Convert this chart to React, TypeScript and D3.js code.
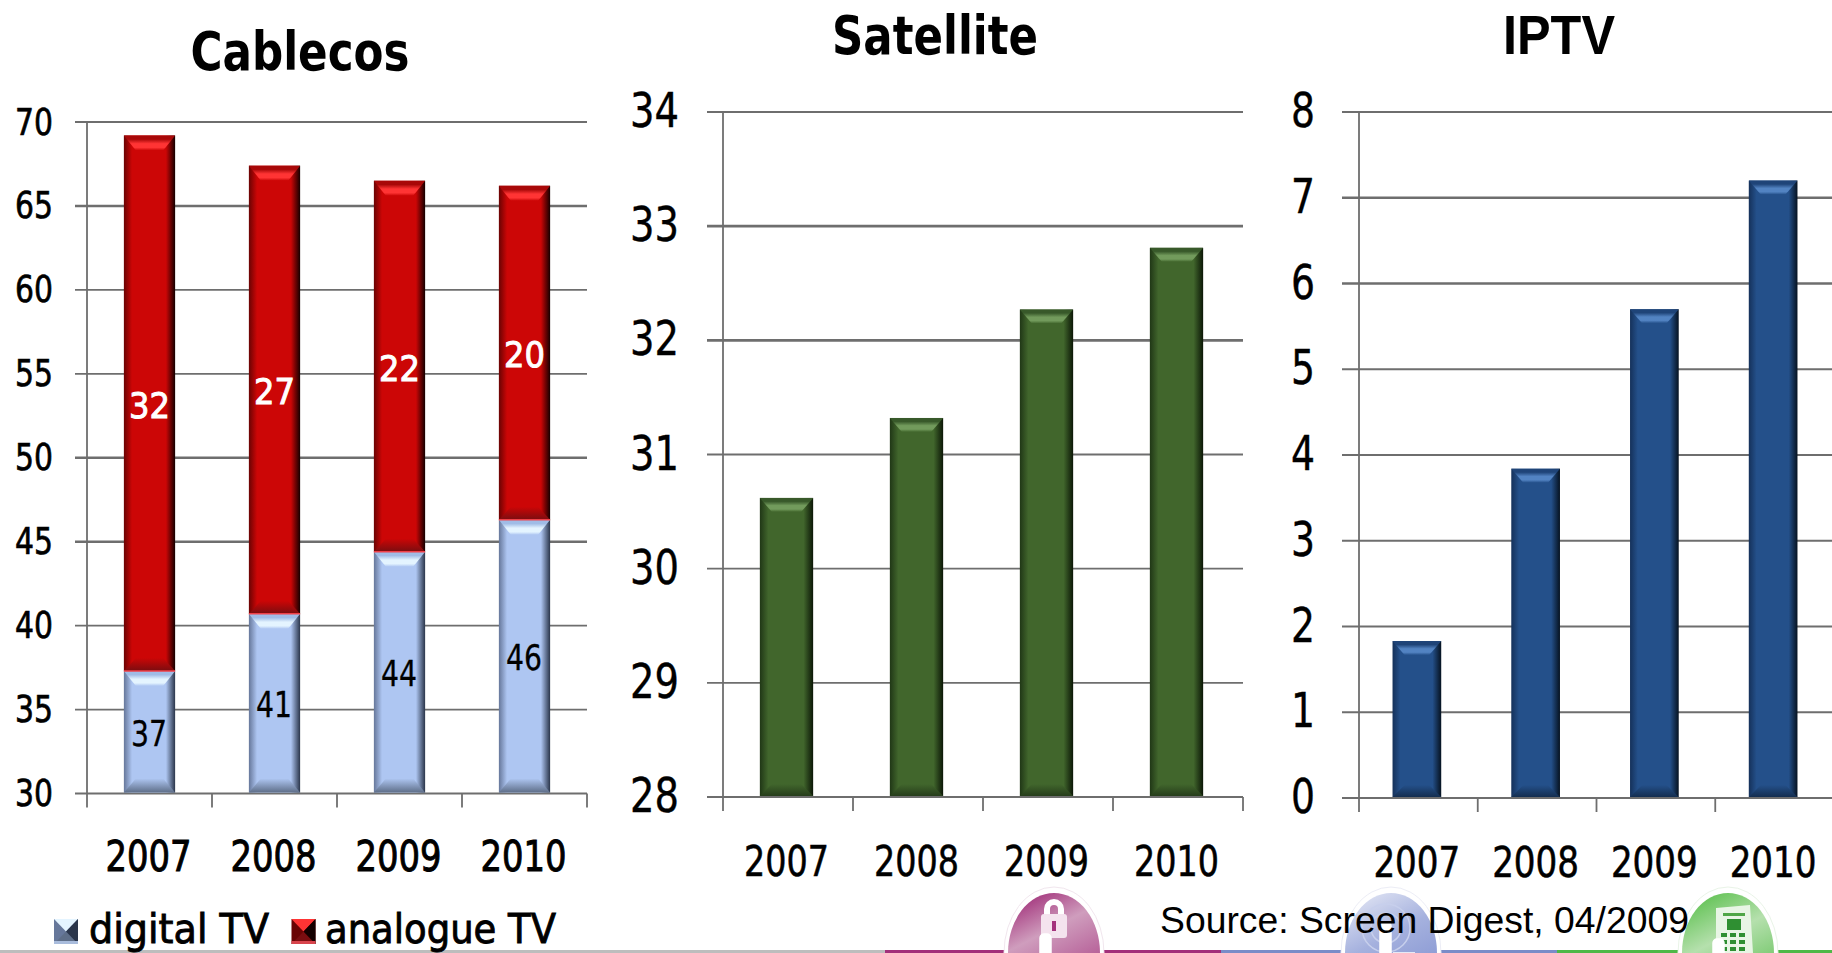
import React from "react";
import * as d3 from "d3";

const years = ["2007", "2008", "2009", "2010"];

const digitalTv = [37.3, 40.7, 44.4, 46.3];
const analogueTv = [31.9, 26.7, 22.1, 19.9];
const satellite = [30.62, 31.32, 32.27, 32.81];
const iptv = [1.83, 3.84, 5.7, 7.2];

const cableTicks = [30, 35, 40, 45, 50, 55, 60, 65, 70];
const satelliteTicks = [28, 29, 30, 31, 32, 33, 34];
const iptvTicks = [0, 1, 2, 3, 4, 5, 6, 7, 8];

const GRID = "#6e6e6e";
const SANS = "'DejaVu Sans', sans-serif";

type Tone = { id: string; edgeL: string; mid: string; edgeR: string; top: string[]; bottom: string };

const tones: Record<string, Tone> = {
  red: { id: "red", edgeL: "#6a0303", mid: "#cc0606", edgeR: "#140000", top: ["#a80808", "#ff3434"], bottom: "#7a0d10" },
  pale: { id: "pale", edgeL: "#66779a", mid: "#aec6f2", edgeR: "#2a354a", top: ["#a0bce6", "#e4f4ff"], bottom: "#5e6e88" },
  green: { id: "green", edgeL: "#203716", mid: "#41662c", edgeR: "#0c1707", top: ["#38592a", "#729b5c"], bottom: "#263d1b" },
  blue: { id: "blue", edgeL: "#15315a", mid: "#24508a", edgeR: "#061220", top: ["#1f4478", "#5283c2"], bottom: "#142e50" },
};

// Text squeezed to a measured width, since the slide was stretched vertically.
function Fit(props: {
  x: number; y: number; w: number; size: number; anchor?: string; fill?: string;
  bold?: boolean; stroke?: number; family?: string; children: string;
}) {
  const { x, y, w, size, anchor = "middle", fill = "#000", bold, stroke = 0, family = SANS, children } = props;
  return (
    <text
      x={x}
      y={y}
      textAnchor={anchor}
      fontFamily={family}
      fontSize={size}
      fontWeight={bold ? 700 : 400}
      fill={fill}
      stroke={stroke ? fill : "none"}
      strokeWidth={stroke}
      textLength={w}
      lengthAdjust="spacingAndGlyphs"
    >
      {children}
    </text>
  );
}

function Defs() {
  return (
    <defs>
      {Object.values(tones).map((t) => (
        <React.Fragment key={t.id}>
          <linearGradient id={`side-${t.id}`} x1="0" x2="1" y1="0" y2="0">
            <stop offset="0" stopColor={t.edgeL} />
            <stop offset="0.16" stopColor={t.mid} />
            <stop offset="0.82" stopColor={t.mid} />
            <stop offset="1" stopColor={t.edgeR} />
          </linearGradient>
          <linearGradient id={`top-${t.id}`} x1="0" x2="0" y1="0" y2="1">
            <stop offset="0" stopColor={t.top[0]} />
            <stop offset="0.25" stopColor={t.top[0]} />
            <stop offset="0.55" stopColor={t.top[1]} />
            <stop offset="0.8" stopColor={t.top[1]} />
            <stop offset="1" stopColor={t.mid} />
          </linearGradient>
          <linearGradient id={`bot-${t.id}`} x1="0" x2="0" y1="0" y2="1">
            <stop offset="0" stopColor={t.mid} />
            <stop offset="1" stopColor={t.bottom} />
          </linearGradient>
        </React.Fragment>
      ))}
      <linearGradient id="egg-purple" x1="0.2" x2="0.6" y1="0" y2="1">
        <stop offset="0" stopColor="#a02d78" />
        <stop offset="0.35" stopColor="#cf9dbd" />
        <stop offset="1" stopColor="#a4337d" />
      </linearGradient>
      <linearGradient id="egg-blue" x1="0.2" x2="0.6" y1="0" y2="1">
        <stop offset="0" stopColor="#dfe3f3" />
        <stop offset="0.4" stopColor="#a5b1de" />
        <stop offset="1" stopColor="#7b8cce" />
      </linearGradient>
      <linearGradient id="egg-green" x1="0.2" x2="0.6" y1="0" y2="1">
        <stop offset="0" stopColor="#5cc04e" />
        <stop offset="0.4" stopColor="#b5e0ad" />
        <stop offset="1" stopColor="#52b947" />
      </linearGradient>
    </defs>
  );
}

// One bevelled column segment: shaded sides, lit top face and darker foot.
function Bevel({ x, w, yTop, yBot, tone, top = 15, foot = 14 }: {
  x: number; w: number; yTop: number; yBot: number; tone: Tone; top?: number; foot?: number;
}) {
  const inset = 12;
  return (
    <g>
      <rect x={x} y={yTop} width={w} height={yBot - yTop} fill={`url(#side-${tone.id})`} />
      <path
        d={`M${x},${yTop}H${x + w}L${x + w - inset},${yTop + top}H${x + inset}Z`}
        fill={`url(#top-${tone.id})`}
      />
      <path
        d={`M${x + inset},${yBot - foot}H${x + w - inset}L${x + w},${yBot}H${x}Z`}
        fill={`url(#bot-${tone.id})`}
      />
    </g>
  );
}

function Frame({ y, x, gridLeft, gridRight, ticks, tickW, tickSize, labelRight, labelDy, tickLabelStroke, strong }: {
  y: d3.ScaleLinear<number, number>; x: d3.ScaleBand<string>; gridLeft: number; gridRight: number;
  ticks: number[]; tickW: (t: number) => number; tickSize: number; labelRight: number; labelDy: number;
  tickLabelStroke: number; strong: number[];
}) {
  const [left] = x.range();
  const base = y.range()[0];
  const step = x.step();
  return (
    <g>
      {ticks.map((t) => (
        <g key={t}>
          <line
            x1={gridLeft}
            x2={gridRight}
            y1={y(t)}
            y2={y(t)}
            stroke={GRID}
            strokeWidth={strong.includes(t) ? 2.6 : 1.8}
          />
          <Fit x={labelRight} y={y(t) + labelDy} w={tickW(t)} size={tickSize} anchor="end" stroke={tickLabelStroke}>
            {String(t)}
          </Fit>
        </g>
      ))}
      <line x1={left} x2={left} y1={y(ticks[ticks.length - 1])} y2={base + 14} stroke={GRID} strokeWidth={1.8} />
      {years.map((_, i) => (
        <line
          key={i}
          x1={left + step * (i + 1)}
          x2={left + step * (i + 1)}
          y1={base}
          y2={base + 14}
          stroke={GRID}
          strokeWidth={1.8}
        />
      ))}
    </g>
  );
}

function Swatch({ x, y, tone }: { x: number; y: number; tone: Tone }) {
  const s = 24;
  const h = 25;
  return (
    <g>
      <rect x={x} y={y} width={s} height={h} fill={tone.edgeL} />
      <path d={`M${x},${y}H${x + s}L${x + s / 2},${y + h / 2}Z`} fill={tone.top[1]} />
      <path d={`M${x},${y + h}H${x + s}L${x + s / 2},${y + h / 2}Z`} fill={tone.bottom} />
      <path d={`M${x + s},${y}V${y + h}L${x + s / 2},${y + h / 2}Z`} fill={tone.edgeR} />
      <rect x={x} y={y + h - 3} width={s} height={3} fill={tone.id === "red" ? "#d8444c" : "#a9bcdc"} />
    </g>
  );
}

function Cablecos() {
  const x = d3.scaleBand<string>().domain(years).range([87, 587]).paddingInner(0.59).paddingOuter(0.295);
  const y = d3.scaleLinear().domain([30, 70]).range([793.5, 122]);
  const w = x.bandwidth();
  const fmt = d3.format(".0f");
  return (
    <g>
      <Fit x={300} y={70} w={219} size={53} bold>Cablecos</Fit>
      <Frame
        x={x} y={y} gridLeft={75} gridRight={587} ticks={cableTicks}
        tickW={() => 38} tickSize={37} labelRight={53} labelDy={12.5} tickLabelStroke={0.7} strong={[65, 45, 50]}
      />
      {years.map((yr, i) => {
        const px = x(yr)!;
        const total = digitalTv[i] + analogueTv[i];
        const midD = (30 + digitalTv[i]) / 2;
        const midA = digitalTv[i] + analogueTv[i] / 2;
        const cx = px + w / 2;
        return (
          <g key={yr}>
            <Bevel x={px} w={w} yTop={y(digitalTv[i])} yBot={y(30) - 1} tone={tones.pale} top={15} foot={14} />
            <Bevel x={px} w={w} yTop={y(total)} yBot={y(digitalTv[i])} tone={tones.red} top={15} foot={13} />
            <line x1={px} x2={px + w} y1={y(digitalTv[i])} y2={y(digitalTv[i])} stroke="#f04048" strokeWidth={1.5} />
            <Fit x={cx - 0.5} y={y(midD) + 13.5} w={36} size={35} stroke={0.3}>{fmt(digitalTv[i])}</Fit>
            <Fit x={cx} y={y(midA) + 14.5} w={41} size={35} fill="#fff" stroke={1}>{fmt(analogueTv[i])}</Fit>
            <Fit x={cx - 1} y={871} w={86} size={42} stroke={1}>{yr}</Fit>
          </g>
        );
      })}
      <Swatch x={54} y={919} tone={tones.pale} />
      <Fit x={89} y={943} w={180} size={40} anchor="start" stroke={0.9}>digital TV</Fit>
      <Swatch x={291.5} y={919} tone={tones.red} />
      <Fit x={325} y={943} w={231} size={40} anchor="start" stroke={0.9}>analogue TV</Fit>
    </g>
  );
}

function SingleSeries({ title, titleX, titleW, values, ticks, domain, yRange, xRange, gridLeft, gridRight, tone, labelRight, tickW, shift, strong, yearBase, yearW, titleFamily }: {
  title: string; titleX: number; titleW: number; values: number[]; ticks: number[]; domain: [number, number];
  yRange: [number, number]; xRange: [number, number]; gridLeft: number; gridRight: number; tone: Tone;
  labelRight: number; tickW: (t: number) => number; shift: number; strong: number[]; yearBase: number; yearW: number;
  titleFamily?: string;
}) {
  const x = d3.scaleBand<string>().domain(years).range(xRange).paddingInner(0.59).paddingOuter(0.295);
  const y = d3.scaleLinear().domain(domain).range(yRange);
  const w = x.bandwidth();
  return (
    <g>
      <Fit x={titleX} y={54} w={titleW} size={titleFamily ? 55 : 53} bold family={titleFamily}>{title}</Fit>
      <Frame
        x={x} y={y} gridLeft={gridLeft} gridRight={gridRight} ticks={ticks}
        tickW={tickW} tickSize={48} labelRight={labelRight} labelDy={15} tickLabelStroke={0.4} strong={strong}
      />
      {years.map((yr, i) => (
        <g key={yr}>
          <Bevel x={x(yr)! + shift} w={w} yTop={y(values[i])} yBot={y(domain[0]) - 1} tone={tone} top={14} foot={12} />
          <Fit x={x(yr)! + w / 2 + shift} y={yearBase} w={yearW} size={43} stroke={0.6}>{yr}</Fit>
        </g>
      ))}
    </g>
  );
}

function Egg({ cx, fill, halo, children }: { cx: number; fill: string; halo: string; children: React.ReactNode }) {
  return (
    <g>
      <ellipse cx={cx} cy={953} rx={50} ry={66} fill="#fff" stroke={halo} strokeWidth={1} />
      <ellipse cx={cx} cy={953} rx={46} ry={60} fill={`url(#${fill})`} />
      {children}
    </g>
  );
}

// A pointing finger that sits at the foot of every product badge.
function Finger({ cx, y, color }: { cx: number; y: number; color: string }) {
  return (
    <g fill={color} stroke="#fff" strokeWidth={1.5}>
      <rect x={cx - 6} y={y} width={11} height={50} rx={4} fill="#fff" />
      <path d={`M${cx + 7},${y + 31}h22M${cx + 13},${y + 31}v14M${cx + 21},${y + 31}v14M${cx - 22},${y + 34}h14`} fill="none" />
    </g>
  );
}

function Footer() {
  return (
    <g>
      <rect x={0} y={950} width={885} height={3} fill="#bdbdbd" />
      <rect x={885} y={950} width={336} height={3} fill="#a22f7a" />
      <rect x={1221} y={950} width={336} height={3} fill="#7a8cc8" />
      <rect x={1557} y={950} width={275} height={3} fill="#4fb848" />

      <Egg cx={1054} fill="egg-purple" halo="#f1e6ee">
        <path d="M1044,909a10,10 0 0 1 20,0v6h-6v-6a4,4 0 0 0-8,0v6h-6Z" fill="#fff" />
        <rect x={1041} y={914} width={26} height={24} rx={3} fill="#f4e3ee" />
        <rect x={1052} y={921} width={4} height={10} fill="#a4337d" />
        <Finger cx={1046} y={934} color="#a4337d" />
      </Egg>

      <Egg cx={1391} fill="egg-blue" halo="#ecedf6">
        <circle cx={1386} cy={928} r={24} fill="none" stroke="#c7cfec" strokeWidth={1.5} />
        <circle cx={1386} cy={928} r={15} fill="none" stroke="#c7cfec" strokeWidth={1.5} />
        <Finger cx={1386} y={922} color="#7b8cce" />
      </Egg>

      <Egg cx={1728} fill="egg-green" halo="#e9f4e7">
        <path d="M1716,908l34-3l3,48h-37Z" fill="#e8f5e5" />
        <rect x={1723} y={913} width={22} height={3} fill="#4fa647" />
        <rect x={1727} y={919} width={14} height={11} fill="#2f8f32" />
        {[0, 1, 2].map((r) =>
          [0, 1, 2].map((c) => (
            <rect key={`${r}-${c}`} x={1721 + c * 9} y={933 + r * 7} width={6} height={4} fill="#2f8f32" />
          ))
        )}
        <Finger cx={1719} y={939} color="#4fb848" />
      </Egg>

      <Fit x={1160} y={932.5} w={529} size={36} anchor="start" family="'Liberation Sans', Arial, sans-serif">
        Source: Screen Digest, 04/2009
      </Fit>
    </g>
  );
}

export default function App() {
  return (
    <svg
      width={1832}
      height={953}
      viewBox="0 0 1832 953"
      style={{ position: "absolute", left: 0, top: 0, display: "block", background: "#fff" }}
    >
      <Defs />
      <Footer />
      <Cablecos />
      <SingleSeries
        title="Satellite" titleX={935} titleW={206} values={satellite} ticks={satelliteTicks} domain={[28, 34]}
        yRange={[797, 112]} xRange={[723, 1243]} gridLeft={707} gridRight={1243} tone={tones.green}
        labelRight={679} tickW={() => 49} shift={-1.5} strong={[33, 32]} yearBase={875.5} yearW={85}
      />
      <SingleSeries
        title="IPTV" titleX={1559} titleW={112} values={iptv} ticks={iptvTicks} domain={[0, 8]}
        yRange={[798, 112]} xRange={[1359, 1834]} gridLeft={1342} gridRight={1832} tone={tones.blue}
        labelRight={1315} tickW={() => 24} shift={-1.5} strong={[7, 6]} yearBase={877} yearW={87}
        titleFamily="'Liberation Sans', Arial, sans-serif"
      />
    </svg>
  );
}
